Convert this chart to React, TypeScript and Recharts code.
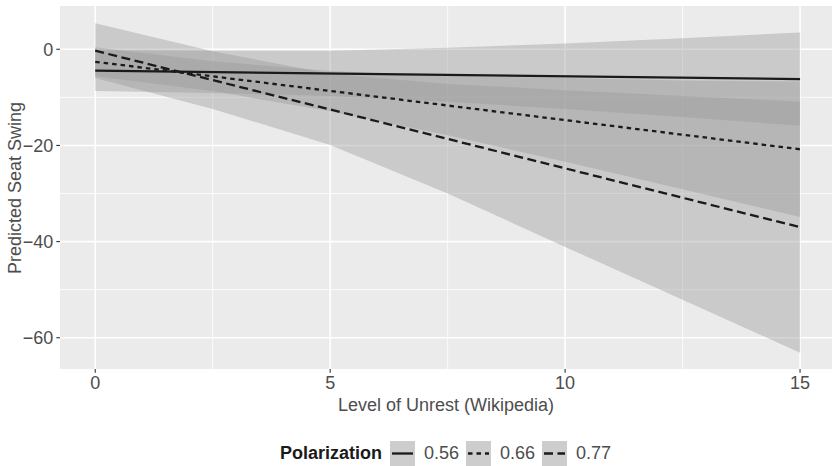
import React from 'react';
import { ComposedChart, Area, Line, XAxis, YAxis, CartesianGrid } from 'recharts';

// Level of unrest (x) at which the confidence ribbons were read
const unrest = [0, 2.5, 5, 7.5, 10, 12.5, 15];

// Ribbon bounds per polarization level
const low056 = [-8.7, -9.1, -9.7, -10.9, -12.4, -14.1, -15.9];
const high056 = [-0.2, -0.3, -0.3, 0.3, 1.2, 2.3, 3.5];
const low066 = [-5.6, -8.7, -12.9, -17.9, -23.4, -29.1, -34.9];
const high066 = [0.4, -2.5, -4.5, -5.5, -6.0, -6.5, -6.7];
const low077 = [-6.0, -12.4, -19.9, -30.0, -41.1, -52.1, -63.1];
const high077 = [5.4, -0.4, -5.1, -7.2, -8.5, -9.7, -10.9];

// Fitted lines (end points)
const lineX = [0, 15];
const fit056 = [-4.45, -6.2];
const fit066 = [-2.6, -20.8];
const fit077 = [-0.3, -37.0];

const xTicks = [0, 5, 10, 15];
const yTicks = [-60, -40, -20, 0];
const xMinor = [2.5, 7.5, 12.5];
const yMinor = [-50, -30, -10];

const levels = ['0.56', '0.66', '0.77'];
const dashes = ['0', '4.5 4', '9 4.5'];

const ribbonData = unrest.map((x, i) => ({
  x,
  b056: [low056[i], high056[i]],
  b066: [low066[i], high066[i]],
  b077: [low077[i], high077[i]],
}));
const mkLine = (vals: number[]) => lineX.map((x, i) => ({ x, y: vals[i] }));
const lines = [mkLine(fit056), mkLine(fit066), mkLine(fit077)];

const FONT = '"Liberation Sans", Arial, Helvetica, sans-serif';
const TXT = '#4D4D4D';
const LINE = '#1A1A1A';

const fmt = (v: number) => (v < 0 ? '\u2212' + Math.abs(v) : String(v));

export default function App() {
  return (
    <div
      style={{
        position: 'absolute',
        left: 0,
        top: 0,
        width: 832,
        height: 466,
        overflow: 'hidden',
        background: '#fff',
        fontFamily: FONT,
      }}
    >
      <ComposedChart
        width={832}
        height={466}
        data={ribbonData}
        margin={{ top: 6, right: 0, bottom: 55, left: 0 }}
      >
        <CartesianGrid
          horizontalValues={yMinor}
          verticalValues={xMinor}
          stroke="#FFFFFF"
          strokeWidth={0.8}
          fill="#EBEBEB"
          fillOpacity={1}
        />
        <CartesianGrid
          horizontalValues={yTicks}
          verticalValues={xTicks}
          stroke="#FFFFFF"
          strokeWidth={1.6}
        />
        <XAxis
          dataKey="x"
          type="number"
          domain={[-0.75, 15.68]}
          ticks={xTicks}
          allowDataOverflow
          axisLine={false}
          tickSize={3.7}
          tickMargin={3.5}
          tickLine={{ stroke: '#333333', strokeWidth: 1.1 }}
          tick={{ fill: TXT, fontSize: 18 }}
          height={42}
          label={{
            value: 'Level of Unrest (Wikipedia)',
            position: 'insideBottom',
            offset: 0,
            fill: TXT,
            fontSize: 18,
          }}
        />
        <YAxis
          type="number"
          domain={[-66.5, 9.0]}
          ticks={yTicks}
          allowDataOverflow
          axisLine={false}
          width={60}
          tickSize={3.7}
          tickMargin={3}
          tickFormatter={fmt}
          tickLine={{ stroke: '#333333', strokeWidth: 1.1 }}
          tick={{ fill: TXT, fontSize: 18 }}
        />
        <Area dataKey="b056" type="linear" stroke="none" fill="#999999" fillOpacity={0.4} isAnimationActive={false} />
        <Area dataKey="b066" type="linear" stroke="none" fill="#999999" fillOpacity={0.4} isAnimationActive={false} />
        <Area dataKey="b077" type="linear" stroke="none" fill="#999999" fillOpacity={0.4} isAnimationActive={false} />
        {lines.map((d, i) => (
          <Line
            key={levels[i]}
            data={d}
            dataKey="y"
            type="linear"
            stroke={LINE}
            strokeWidth={2.3}
            strokeDasharray={dashes[i]}
            dot={false}
            activeDot={false}
            isAnimationActive={false}
          />
        ))}
      </ComposedChart>

      <div
        style={{
          position: 'absolute',
          left: 15,
          top: 187.5,
          transform: 'translate(-50%, -50%) rotate(-90deg)',
          whiteSpace: 'nowrap',
          fontSize: 18,
          color: TXT,
          lineHeight: '20px',
        }}
      >
        Predicted Seat Swing
      </div>

      <div
        style={{
          position: 'absolute',
          right: 832 - 382,
          top: 441,
          height: 25,
          lineHeight: '25px',
          fontSize: 18,
          fontWeight: 'bold',
          color: '#1A1A1A',
          whiteSpace: 'nowrap',
        }}
      >
        Polarization
      </div>
      {levels.map((lv, i) => (
        <React.Fragment key={lv}>
          <svg
            width={25}
            height={25}
            style={{ position: 'absolute', left: 390 + i * 76, top: 441 }}
          >
            <rect x={0} y={0} width={25} height={25} fill="#CDCDCD" />
            <line
              x1={2}
              x2={23}
              y1={12.5}
              y2={12.5}
              stroke={LINE}
              strokeWidth={2.3}
              strokeDasharray={dashes[i]}
            />
          </svg>
          <div
            style={{
              position: 'absolute',
              left: 424 + i * 76,
              top: 441,
              height: 25,
              lineHeight: '25px',
              fontSize: 18,
              color: TXT,
              whiteSpace: 'nowrap',
            }}
          >
            {lv}
          </div>
        </React.Fragment>
      ))}
    </div>
  );
}
